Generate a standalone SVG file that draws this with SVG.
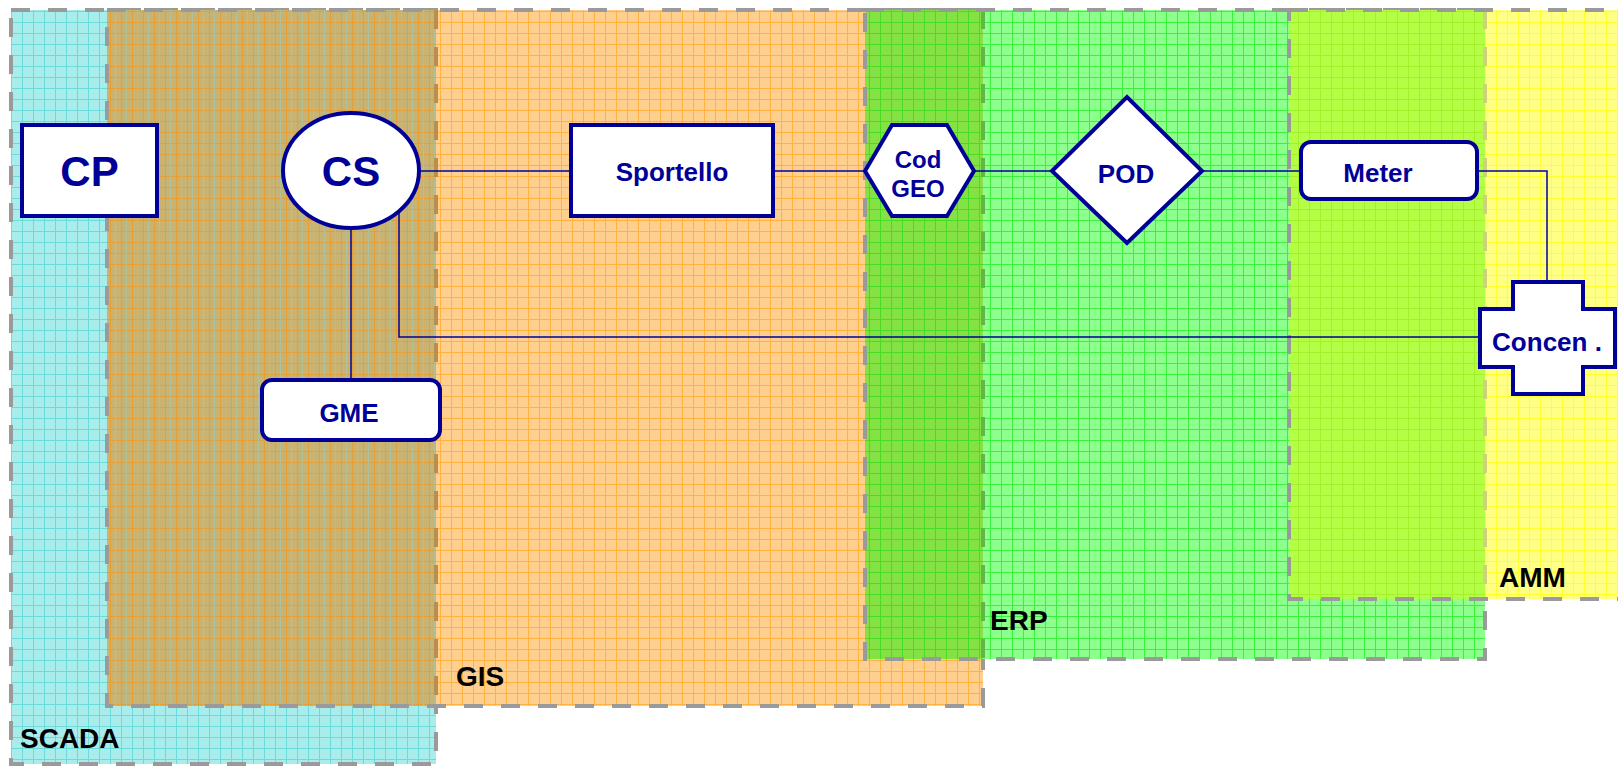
<svg xmlns="http://www.w3.org/2000/svg" width="1618" height="766" viewBox="0 0 1618 766">
  <defs>
    <!-- hatched grid fills for the system zones and their overlaps -->
    <pattern id="grid-scada" width="11" height="11" patternUnits="userSpaceOnUse">
      <rect width="11" height="11" fill="#a9ecec"/>
      <path d="M0.5 0V11M0 0.5H11" stroke="#6cdada" stroke-width="1"/>
    </pattern>
    <pattern id="grid-gis" width="11" height="11" patternUnits="userSpaceOnUse">
      <rect width="11" height="11" fill="#ffcf90"/>
      <path d="M0.5 0V11M0 0.5H11" stroke="#ffb240" stroke-width="1"/>
    </pattern>
    <pattern id="grid-scada-gis" width="11" height="11" patternUnits="userSpaceOnUse">
      <rect width="11" height="11" fill="#c9b373"/>
      <path d="M0.5 0V11M0 0.5H11" stroke="#e4a036" stroke-width="1"/>
      <path d="M5.5 0V11" stroke="#b0c098" stroke-width="1"/>
    </pattern>
    <pattern id="grid-erp" width="11" height="11" patternUnits="userSpaceOnUse">
      <rect width="11" height="11" fill="#8cff8c"/>
      <path d="M0.5 0V11M0 0.5H11" stroke="#3cf03c" stroke-width="1"/>
    </pattern>
    <pattern id="grid-gis-erp" width="11" height="11" patternUnits="userSpaceOnUse">
      <rect width="11" height="11" fill="#84e244"/>
      <path d="M0.5 0V11M0 0.5H11" stroke="#48dc24" stroke-width="1"/>
    </pattern>
    <pattern id="grid-amm" width="11" height="11" patternUnits="userSpaceOnUse">
      <rect width="11" height="11" fill="#ffff86"/>
      <path d="M0.5 0V11M0 0.5H11" stroke="#ffff30" stroke-width="1"/>
    </pattern>
    <pattern id="grid-erp-amm" width="11" height="11" patternUnits="userSpaceOnUse">
      <rect width="11" height="11" fill="#b4ff46"/>
      <path d="M0.5 0V11M0 0.5H11" stroke="#a4f02c" stroke-width="1"/>
    </pattern>
  </defs>
  <style>
    .zone-edge{fill:none;stroke:#9a9a9a;stroke-width:4;stroke-dasharray:19 18}
    .zone-edge-under{fill:none;stroke-width:4;stroke-dasharray:19 18}
    .zone-label{font-family:"Liberation Sans",Arial,sans-serif;font-weight:bold;font-size:28px;fill:#000}
    .shape{fill:#fff;stroke:#000099;stroke-width:4}
    .label{font-family:"Liberation Sans",Arial,sans-serif;font-weight:bold;font-size:26px;fill:#000099;text-anchor:middle}
    .big{font-size:42px}
    .link{fill:none;stroke:#000099;stroke-width:1.5}
  </style>

  <!-- system zones -->
  <g id="zone-scada">
    <rect x="11" y="10" width="425" height="754" fill="url(#grid-scada)"/>
    <rect x="11" y="10" width="425" height="754" class="zone-edge"/>
  </g>
  <g id="zone-gis">
    <rect x="107" y="10" width="876" height="696" fill="url(#grid-gis)"/>
    <rect x="107" y="10" width="329" height="696" fill="url(#grid-scada-gis)"/>
    <path d="M436 10V706" class="zone-edge-under" stroke="#b98f4e"/>
    <rect x="107" y="10" width="876" height="696" class="zone-edge"/>
  </g>
  <g id="zone-erp">
    <rect x="865" y="10" width="620" height="649" fill="url(#grid-erp)"/>
    <rect x="865" y="10" width="118" height="649" fill="url(#grid-gis-erp)"/>
    <path d="M983 10V659" class="zone-edge-under" stroke="#5fb846"/>
    <rect x="865" y="10" width="620" height="649" class="zone-edge"/>
  </g>
  <g id="zone-amm">
    <rect x="1289" y="10" width="360" height="589" fill="url(#grid-amm)"/>
    <rect x="1289" y="10" width="196" height="589" fill="url(#grid-erp-amm)"/>
    <path d="M1485 10V599" class="zone-edge-under" stroke="#cfd27a"/>
    <rect x="1289" y="10" width="360" height="589" class="zone-edge"/>
  </g>

  <g id="zone-labels">
    <text class="zone-label" x="20" y="748">SCADA</text>
    <text class="zone-label" x="456" y="686">GIS</text>
    <text class="zone-label" x="990" y="630">ERP</text>
    <text class="zone-label" x="1499" y="587">AMM</text>
  </g>

  <!-- links between the entities -->
  <g id="connectors">
    <path class="link" d="M419 171H571"/>
    <path class="link" d="M773 171H865"/>
    <path class="link" d="M974 171H1052"/>
    <path class="link" d="M1202 171H1301"/>
    <path class="link" d="M1477 171H1547V282"/>
    <path class="link" d="M399 211V337H1480"/>
    <path class="link" d="M351 228V380"/>
  </g>

  <!-- entities -->
  <g id="node-cp">
    <rect class="shape" x="22" y="125" width="135" height="91"/>
    <text class="label big" x="89.5" y="186">CP</text>
  </g>
  <g id="node-cs">
    <ellipse class="shape" cx="351" cy="170.5" rx="68" ry="57.5"/>
    <text class="label big" x="351" y="186">CS</text>
  </g>
  <g id="node-sportello">
    <rect class="shape" x="571" y="125" width="202" height="91"/>
    <text class="label" x="672" y="181">Sportello</text>
  </g>
  <g id="node-codgeo">
    <polygon class="shape" points="865,171 892,125 947,125 974,171 947,216 892,216"/>
    <text class="label" x="918" y="168" style="font-size:24px">Cod</text>
    <text class="label" x="918" y="197" style="font-size:24px">GEO</text>
  </g>
  <g id="node-pod">
    <polygon class="shape" points="1052,171 1127,97 1202,171 1127,243"/>
    <text class="label" x="1126" y="183">POD</text>
  </g>
  <g id="node-meter">
    <rect class="shape" x="1301" y="142" width="176" height="57" rx="10"/>
    <text class="label" x="1378" y="182">Meter</text>
  </g>
  <g id="node-gme">
    <rect class="shape" x="262" y="380" width="178" height="60" rx="10"/>
    <text class="label" x="349" y="422">GME</text>
  </g>
  <g id="node-concen">
    <polygon class="shape" points="1513,282 1583,282 1583,309 1615,309 1615,367 1583,367 1583,394 1513,394 1513,367 1480,367 1480,309 1513,309"/>
    <text class="label" x="1547" y="351">Concen .</text>
  </g>
</svg>
